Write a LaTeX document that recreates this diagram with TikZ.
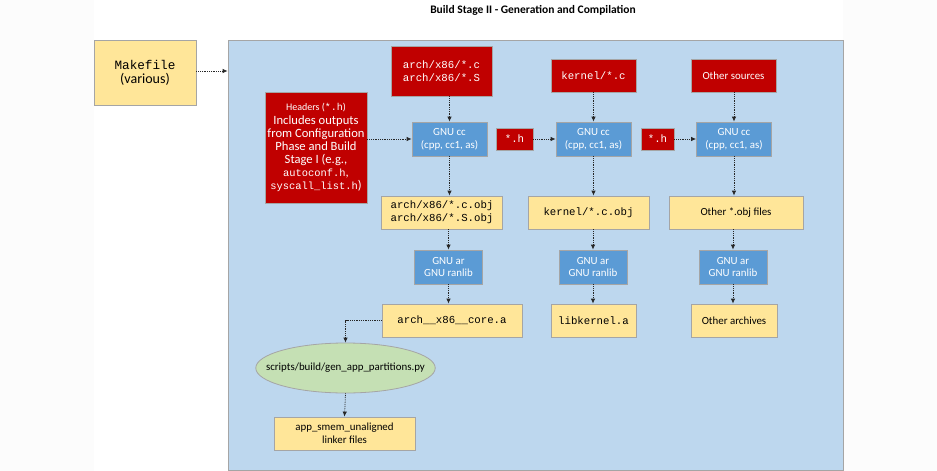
\documentclass[tikz,border=0pt]{standalone}
\usepackage{fontspec}
\setmainfont{Carlito}
\setmonofont{Liberation Mono}
\usetikzlibrary{arrows.meta,shapes.geometric}

\definecolor{srcred}{HTML}{C00000}
\definecolor{toolblue}{HTML}{5B9BD5}
\definecolor{fileyellow}{HTML}{FFE699}
\definecolor{stagebg}{HTML}{BDD7EE}
\definecolor{scriptgreen}{HTML}{C5E0B4}
\definecolor{edgegray}{HTML}{A5A5A5}
\definecolor{pagegray}{HTML}{FCFCFC}

\newcommand{\txt}{\fontsize{10.9}{13}\selectfont}
\newcommand{\mono}{\fontsize{10.7}{13}\ttfamily}

\tikzset{
  box/.style={draw=edgegray, line width=0.8pt, inner sep=0pt, align=center, font=\txt},
  src/.style={box, fill=srcred, text=white},
  tool/.style={box, fill=toolblue, text=white},
  file/.style={box, fill=fileyellow, text=black},
  flow/.style={black!85, densely dotted, line width=0.8pt, -{Latex[length=5pt,width=4.5pt]}},
}

\begin{document}
\begin{tikzpicture}[x=1pt, y=-1pt]
  % page
  \fill[pagegray] (0,0) rectangle (937,471);
  \useasboundingbox (0,0) rectangle (937,471);
  \fill[white] (94,0) rectangle (843,471);

  \node[font=\fontsize{11.5}{13}\selectfont\bfseries] (title) at (533,10) {Build Stage II - Generation and Compilation};

  \node[file, minimum width=102, minimum height=65] (makefile) at (145,72.5)
    {{\fontsize{12.7}{16}\ttfamily Makefile}\\[1pt]{\fontsize{14}{16}\selectfont (various)}};
  \node[box, fill=stagebg, minimum width=615, minimum height=430] (stage) at (535.5,255) {};

  % sources
  \node[src, font=\mono, minimum width=101, minimum height=50] (srcA) at (441.5,71)
    {arch/x86/*.c\\arch/x86/*.S};
  \node[src, font=\mono, minimum width=85, minimum height=33] (srcB) at (593.5,75.5) {kernel/*.c};
  \node[src, minimum width=85, minimum height=33] (srcC) at (733.5,75.5) {Other sources};
  \node[src, font=\fontsize{12.6}{13}\selectfont, minimum width=102, minimum height=111] (headers) at (316,147.5)
    {{\fontsize{10}{12}\selectfont Headers ({\ttfamily *.h})}\\[1pt]
     Includes outputs\\from Configuration\\Phase and Build\\Stage I (e.g.,\\
     {\fontsize{10.4}{13}\ttfamily autoconf.h},\\{\fontsize{10.4}{13}\ttfamily syscall\_list.h})};
  \node[src, font=\mono, minimum width=37, minimum height=22] (hA) at (514.5,139) {*.h};
  \node[src, font=\mono, minimum width=33, minimum height=22] (hB) at (657.5,139) {*.h};

  % compilers
  \foreach \c/\x in {A/449.5, B/593.5, C/734}
    \node[tool, minimum width=75, minimum height=34] (cc\c) at (\x,139) {GNU cc\\(cpp, cc1, as)};

  % objects
  \node[file, font=\mono, minimum width=121, minimum height=33] (objA) at (442,212.5)
    {arch/x86/*.c.obj\\arch/x86/*.S.obj};
  \node[file, font=\mono, minimum width=121, minimum height=33] (objB) at (588.5,212.5) {kernel/*.c.obj};
  \node[file, minimum width=134, minimum height=33] (objC) at (736,212.5) {Other *.obj files};

  % archivers
  \foreach \c/\x in {A/448.5, B/593, C/733}
    \node[tool, minimum width=68, minimum height=34] (ar\c) at (\x,267) {GNU ar\\GNU ranlib};

  % libraries
  \node[file, font=\mono, minimum width=140, minimum height=33] (libA) at (452,320.5) {arch\_\_x86\_\_core.a};
  \node[file, font=\mono, minimum width=85, minimum height=33] (libB) at (593.5,320.5) {libkernel.a};
  \node[file, minimum width=86, minimum height=33] (libC) at (734,320.5) {Other archives};

  \node[ellipse, draw=edgegray, line width=0.8pt, fill=scriptgreen, inner ysep=0pt, inner xsep=-16pt,
        minimum width=175, minimum height=50, font=\txt] (gen) at (345.5,368)
    {scripts/build/gen\_app\_partitions.py};
  \node[file, minimum width=141, minimum height=33] (smem) at (344.5,433.5)
    {app\_smem\_unaligned\\linker files};

  % connectors
  \draw[flow] (makefile.east |- 0,71) -- (stage.west |- 0,71);
  \draw[flow] (headers.east |- ccA.west) -- (ccA.west);
  \draw[flow] (hA.east) -- (ccB.west);
  \draw[flow] (hB.east) -- (ccC.west);
  \foreach \c in {A,B,C} {
    \draw[flow] (src\c.south -| cc\c.north) -- (cc\c.north);
    \draw[flow] (cc\c.south) -- (cc\c.south |- obj\c.north);
    \draw[flow] (obj\c.south -| ar\c.north) -- (ar\c.north);
    \draw[flow] (ar\c.south) -- (ar\c.south |- lib\c.north);
  }
  \draw[flow] (libA.west) -| (gen.north);
  \draw[flow] (gen.south) -- (smem.north);
\end{tikzpicture}
\end{document}
